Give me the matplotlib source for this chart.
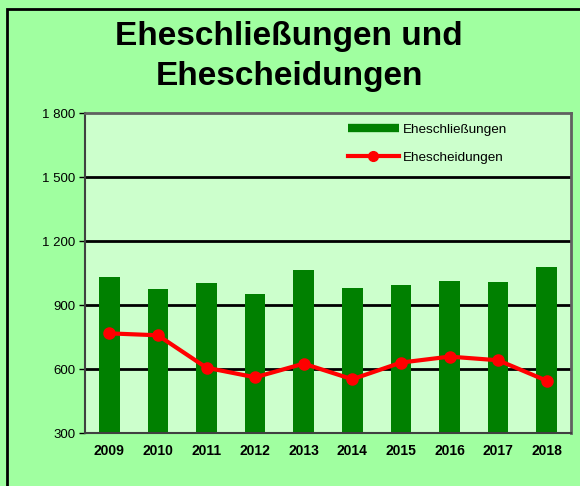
import matplotlib
matplotlib.use("Agg")
import matplotlib.pyplot as plt
from matplotlib.patches import Rectangle
from matplotlib.lines import Line2D
from matplotlib.ticker import FuncFormatter

years = ["2009", "2010", "2011", "2012", "2013", "2014", "2015", "2016", "2017", "2018"]
eheschliessungen = [1033, 975, 1003, 951, 1065, 980, 995, 1011, 1008, 1077]
ehescheidungen = [767, 758, 606, 561, 625, 552, 630, 658, 641, 545]
yticks = [300, 600, 900, 1200, 1500, 1800]

plt.rcParams['font.family'] = ['Liberation Sans', 'DejaVu Sans']

W, H = 580, 486
fig = plt.figure(figsize=(W / 100, H / 100), dpi=100)
fig.patch.set_facecolor('#A0FFA0')

# outer chart frame (extends beyond the picture on right/bottom)
fig.add_artist(Rectangle((7 / W, -0.05), 1.2, 1 - 9 / H + 0.05, transform=fig.transFigure,
                         fill=False, edgecolor='black', linewidth=2, zorder=0))

left, right, top, bottom = 85, 571, 113, 433
ax = fig.add_axes([left / W, 1 - bottom / H, (right - left) / W, (bottom - top) / H])
ax.set_facecolor('#CCFFCC')

x = list(range(len(years)))
ax.bar(x, eheschliessungen, width=0.42, color='#008000', zorder=2)
ax.plot(x, ehescheidungen, color='#FF0000', lw=3, marker='o', markersize=8, zorder=4)

ax.set_ylim(300, 1800)
ax.set_xlim(-0.5, len(years) - 0.5)
ax.set_yticks(yticks)
ax.yaxis.set_major_formatter(FuncFormatter(lambda v, p: f"{int(v):,}".replace(",", " ")))
ax.set_xticks(x)
ax.set_xticklabels(years, fontweight='bold', fontsize=10)
ax.tick_params(axis='x', length=0, pad=8)
ax.tick_params(axis='y', length=4, width=1, labelsize=9.5, pad=3, direction='out')

for g in yticks[1:-1]:
    ax.axhline(g, color='black', lw=2, zorder=1)

for s in ['top', 'right']:
    ax.spines[s].set_color('#606060')
    ax.spines[s].set_linewidth(2)
for s in ['left', 'bottom']:
    ax.spines[s].set_color('#404040')
    ax.spines[s].set_linewidth(1.5)

handles = [Line2D([], [], color='#008000', lw=6, solid_capstyle='butt'),
           Line2D([], [], color='#FF0000', lw=3, marker='o', markersize=7)]
labels = ['Eheschließungen', 'Ehescheidungen']
ax.legend(handles, labels, loc='upper left',
          bbox_to_anchor=((337 - left) / (right - left), 1),
          frameon=False, fontsize=9.7, handlelength=3.8, handletextpad=0.3,
          labelspacing=1.15, borderpad=0.3)

fig.text(289 / W, 1 - 36 / H, "Eheschließungen und", ha='center', va='center',
         fontsize=24, fontweight='bold')
fig.text(289 / W, 1 - 76 / H, "Ehescheidungen", ha='center', va='center',
         fontsize=24, fontweight='bold')

fig.savefig("out.png", dpi=100, facecolor=fig.get_facecolor())
